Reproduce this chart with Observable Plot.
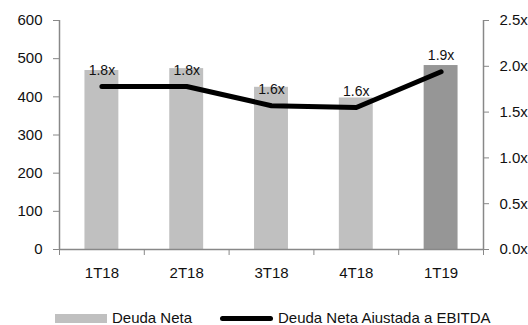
<!DOCTYPE html>
<html>
<head>
<meta charset="utf-8">
<script src="https://cdn.jsdelivr.net/npm/d3@7"></script>
<script src="https://cdn.jsdelivr.net/npm/@observablehq/plot@0.6"></script>
<style>
  html, body { margin: 0; padding: 0; background: #fff; }
  #wrap { width: 528px; position: relative; font-family: "Liberation Sans", Arial, sans-serif; color: #111; }
  #legend { position: relative; width: 528px; height: 30px; font-size: 15px; }
  .sw { position: absolute; }
  .lt { position: absolute; top: 14px; line-height: 18px; }
</style>
</head>
<body>
<div id="wrap">
  <div id="chart"></div>
  <div id="legend">
    <div class="sw" style="left:55px; top:19px; width:52px; height:9px; background:#c0c0c0;"></div>
    <div class="lt" style="left:112px;">Deuda Neta</div>
    <div class="sw" style="left:220px; top:21px; width:53px; height:5px; background:#000; border-radius:3px;"></div>
    <div class="lt" style="left:278px;">Deuda Neta Aiustada a EBITDA</div>
  </div>
</div>
<script>
const categories = ["1T18", "2T18", "3T18", "4T18", "1T19"];
const deudaNeta = [469, 474, 425, 397, 482];
const ratio = [1.78, 1.78, 1.57, 1.55, 1.94];
const ratioLabels = ["1.8x", "1.8x", "1.6x", "1.6x", "1.9x"];
const leftTicks = [0, 100, 200, 300, 400, 500, 600];
const rightTicks = [0, 0.5, 1.0, 1.5, 2.0, 2.5];
const highlight = "1T19";

const k = 600 / 2.5; // right axis -> left axis units
const axisGray = "#888";
const textColor = "#111";

const chart = Plot.plot({
  width: 528,
  height: 295,
  marginLeft: 59,
  marginRight: 45,
  marginTop: 20,
  marginBottom: 46,
  x: { domain: [0, 5], axis: null },
  y: { domain: [0, 600], axis: null },
  style: { fontFamily: '"Liberation Sans", Arial, sans-serif', fontSize: "15px", color: textColor, background: "#fff" },
  marks: [
    Plot.rectY(categories, {
      x1: (d, i) => i + 0.3,
      x2: (d, i) => i + 0.7,
      y: (d, i) => deudaNeta[i],
      fill: d => d === highlight ? "#969696" : "#c0c0c0"
    }),
    Plot.ruleX([0, 5], { stroke: axisGray, strokeWidth: 1.5 }),
    Plot.ruleY([0], { stroke: axisGray, strokeWidth: 1.5 }),
    Plot.axisY({ anchor: "left", ticks: leftTicks, tickSize: 6, tickPadding: 11, stroke: axisGray, fill: textColor, fontSize: 15 }),
    Plot.axisY({ anchor: "right", ticks: rightTicks.map(v => v * k), tickFormat: d => (d / k).toFixed(1) + "x", tickSize: 5, tickPadding: 11, stroke: axisGray, fill: textColor, fontSize: 15 }),
    Plot.axisX({ anchor: "bottom", ticks: [0, 1, 2, 3, 4, 5], tickFormat: () => "", tickSize: 6, stroke: axisGray }),
    Plot.text(categories, { x: (d, i) => i + 0.5, y: 0, dy: 24, text: d => d, fontSize: 15, fill: textColor }),
    Plot.line(categories, {
      x: (d, i) => i + 0.5,
      y: (d, i) => ratio[i] * k,
      stroke: "#000",
      strokeWidth: 5,
      strokeLinecap: "round",
      strokeLinejoin: "round"
    }),
    Plot.text(categories, {
      x: (d, i) => i + 0.5,
      y: (d, i) => ratio[i] * k,
      text: (d, i) => ratioLabels[i],
      dy: -16,
      fontSize: 14,
      fill: textColor
    })
  ]
});
document.getElementById("chart").appendChild(chart);
</script>
</body>
</html>
